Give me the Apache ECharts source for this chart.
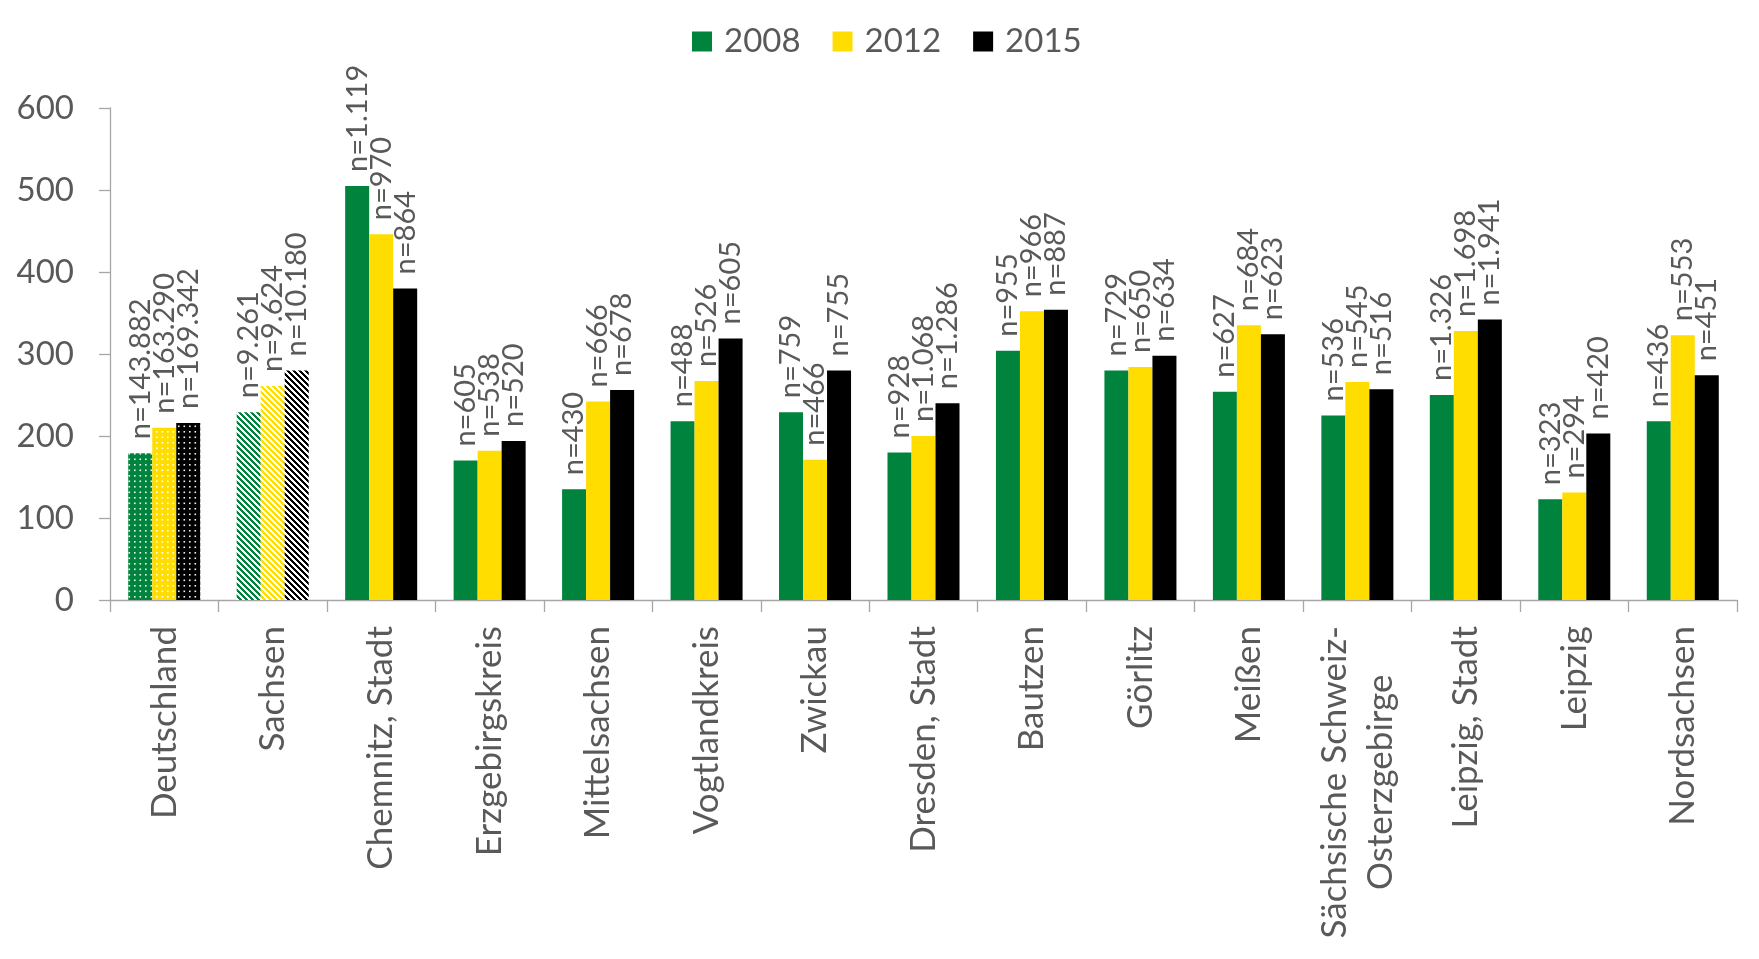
<!DOCTYPE html>
<html>
<head>
<meta charset="utf-8">
<script src="https://cdn.jsdelivr.net/npm/echarts@6/dist/echarts.min.js"></script>
<style>
html,body{margin:0;padding:0;background:#fff;}
#chart{width:1759px;height:959px;}
</style>
</head>
<body>
<div id="chart"></div>
<script>
const categories = ['Deutschland','Sachsen','Chemnitz, Stadt','Erzgebirgskreis','Mittelsachsen','Vogtlandkreis','Zwickau','Dresden, Stadt','Bautzen','Görlitz','Meißen','Sächsische Schweiz-\nOsterzgebirge','Leipzig, Stadt','Leipzig','Nordsachsen'];
const years = ['2008','2012','2015'];
const values2008 = [179, 229, 505, 170, 135, 218, 229, 180, 304, 280, 254, 225, 250, 123, 218];
const values2012 = [210, 261, 446, 182, 242, 267, 171, 200, 352, 284, 335, 266, 328, 131, 323];
const values2015 = [216, 280, 380, 194, 256, 319, 280, 240, 354, 298, 324, 257, 342, 203, 274];
const n2008 = ['143.882','9.261','1.119','605','430','488','759','928','955','729','627','536','1.326','323','436'];
const n2012 = ['163.290','9.624','970','538','666','526','466','1.068','966','650','684','545','1.698','294','553'];
const n2015 = ['169.342','10.180','864','520','678','605','755','1.286','887','634','623','516','1.941','420','451'];
const yTicks = [0, 100, 200, 300, 400, 500, 600];

const colors = ['#00843D', '#FFDD00', '#000000'];
const FONT = 'Lato';
const TXT = '#595959';

function dotPattern(color) {
  const c = document.createElement('canvas');
  c.width = 11; c.height = 11;
  const g = c.getContext('2d');
  g.fillStyle = color; g.fillRect(0, 0, 11, 11);
  g.fillStyle = 'rgba(255,255,255,0.95)';
  [[2, 2], [7.5, 2], [2, 7.5], [7.5, 7.5]].forEach(p => g.fillRect(p[0], p[1], 1.6, 1.6));
  return { image: c, repeat: 'repeat' };
}
function stripePattern(color) {
  const c = document.createElement('canvas');
  c.width = 6; c.height = 6;
  const g = c.getContext('2d');
  g.fillStyle = '#ffffff'; g.fillRect(0, 0, 6, 6);
  g.fillStyle = color;
  for (let x = 0; x < 6; x++) for (let y = 0; y < 6; y++) {
    if (((x - y + 12) % 6) < 3) g.fillRect(x, y, 1, 1);
  }
  return { image: c, repeat: 'repeat' };
}

const allValues = [values2008, values2012, values2015];
const allN = [n2008, n2012, n2015];

const series = years.map((yr, si) => ({
  name: yr,
  type: 'bar',
  barGap: '0%',
  barCategoryGap: '33.6%',
  itemStyle: { color: colors[si] },
  data: allValues[si].map((v, i) => {
    if (i === 0) return { value: v, itemStyle: { color: dotPattern(colors[si]) } };
    if (i === 1) return { value: v, itemStyle: { color: stripePattern(colors[si]) } };
    return v;
  }),
  label: {
    show: true,
    position: 'top',
    rotate: 90,
    align: 'left',
    verticalAlign: 'middle',
    distance: 14,
    fontFamily: FONT,
    fontSize: 29,
    color: TXT,
    formatter: p => 'n=' + allN[si][p.dataIndex]
  },
  emphasis: { disabled: true }
}));

const chart = echarts.init(document.getElementById('chart'), null, { renderer: 'canvas' });
chart.setOption({
  animation: false,
  backgroundColor: '#ffffff',
  legend: {
    data: years,
    left: 687,
    top: 20,
    icon: 'rect',
    itemWidth: 20,
    itemHeight: 20,
    itemGap: 32,
    textStyle: { fontFamily: FONT, fontSize: 33, color: TXT, padding: [0, 0, 0, 7] }
  },
  grid: { left: 110, right: 22, top: 108, bottom: 359, containLabel: false },
  xAxis: {
    type: 'category',
    data: categories,
    axisLine: { show: true, lineStyle: { color: '#A6A6A6', width: 1.3 } },
    axisTick: { show: true, length: 12, lineStyle: { color: '#A6A6A6', width: 1.3 } },
    axisLabel: {
      interval: 0,
      rotate: 90,
      margin: 26,
      fontFamily: FONT,
      fontSize: 35,
      color: TXT,
      formatter: v => v.split('\n').map(l => '{c|' + l + '}').join('\n'),
      rich: { c: { fontFamily: FONT, fontSize: 35, color: TXT, align: 'center', lineHeight: 46 } }
    },
    splitLine: { show: false }
  },
  yAxis: {
    type: 'value',
    min: yTicks[0],
    max: yTicks[yTicks.length - 1],
    interval: 100,
    axisLine: { show: true, lineStyle: { color: '#A6A6A6', width: 1.3 } },
    axisTick: { show: true, length: 11, lineStyle: { color: '#A6A6A6', width: 1.3 } },
    axisLabel: { margin: 36, fontFamily: FONT, fontSize: 33, color: TXT },
    splitLine: { show: false }
  },
  series: series
});
</script>
</body>
</html>
